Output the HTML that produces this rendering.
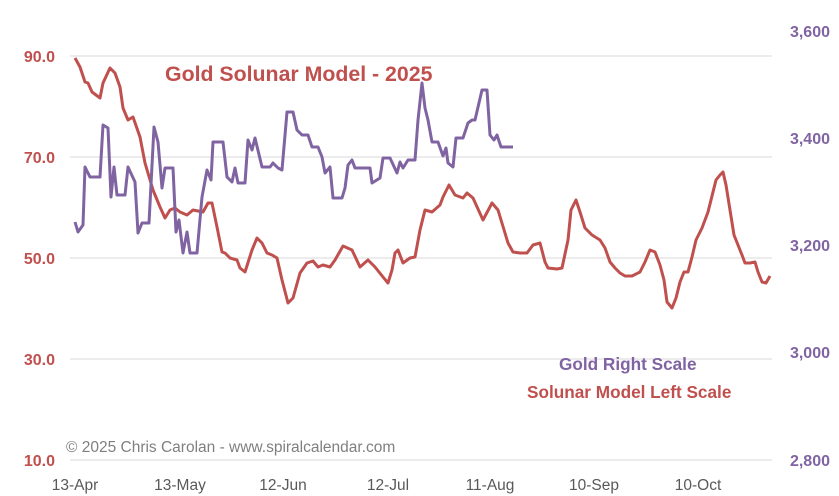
<!DOCTYPE html>
<html><head><style>
body{margin:0;background:#fff}
svg{display:block;font-family:"Liberation Sans",Arial,sans-serif}
</style></head><body>
<svg width="839" height="496" viewBox="0 0 839 496">
<g stroke="#d9d9d9" stroke-width="1">
<line x1="70" y1="56" x2="772" y2="56"/><line x1="70" y1="157" x2="772" y2="157"/>
<line x1="70" y1="258" x2="772" y2="258"/><line x1="70" y1="359" x2="772" y2="359"/>
<line x1="70" y1="460" x2="772" y2="460"/>
</g>
<g fill="#c0504d" font-weight="bold" font-size="16" text-anchor="end">
<text x="55" y="62">90.0</text><text x="55" y="163">70.0</text><text x="55" y="264">50.0</text><text x="55" y="365">30.0</text><text x="55" y="466">10.0</text>
</g>
<g fill="#8064a2" font-weight="bold" font-size="16" text-anchor="end">
<text x="830" y="37">3,600</text><text x="830" y="144">3,400</text><text x="830" y="251">3,200</text><text x="830" y="358">3,000</text><text x="830" y="466">2,800</text>
</g>
<g fill="#595959" font-size="15.5" text-anchor="middle">
<text x="75" y="490">13-Apr</text><text x="180" y="490">13-May</text><text x="283" y="490">12-Jun</text><text x="388" y="490">12-Jul</text><text x="490" y="490">11-Aug</text><text x="594" y="490">10-Sep</text><text x="698" y="490">10-Oct</text>
</g>
<polyline fill="none" stroke="#c0504d" stroke-width="3" stroke-linejoin="round" points="75,58 80,67 85,82 88,83 92,92 100,98 103,83 110,68 115,73 120,87 123,108 128,120 133,117 140,137 145,163 153,190 160,207 165,218 170,210 175,208 180,212 187,215 193,210 203,212 208,203 212,203 217,227 222,252 225,253 230,258 237,260 240,268 245,272 252,250 257,238 262,243 267,253 272,255 277,258 282,280 288,303 293,298 300,273 307,263 313,261 318,267 323,265 330,267 335,260 343,246 352,250 360,267 368,260 375,267 383,277 388,283 392,270 395,253 398,250 403,263 410,258 415,257 420,230 425,210 432,212 440,205 443,197 449,185 455,195 463,198 467,193 473,198 483,220 492,203 498,210 508,243 513,252 520,253 527,253 533,245 540,243 545,262 548,268 557,269 562,268 568,240 571,210 576,200 580,212 585,228 592,235 600,240 605,248 610,262 615,268 620,273 625,276 632,276 640,272 645,262 650,250 655,252 660,265 664,280 667,302 672,308 676,298 680,282 684,272 688,272 692,257 696,240 702,228 708,212 712,196 716,180 720,175 723,172 726,185 730,210 734,235 738,245 742,255 745,263 750,263 755,262 758,272 762,282 766,283 770,276"/>
<polyline fill="none" stroke="#8064a2" stroke-width="3" stroke-linejoin="round" points="75,222 78,232 83,225 85,167 90,177 100,177 103,125 108,128 111,197 114,167 117,195 125,195 128,167 135,182 138,233 142,223 149,223 154,127 158,142 162,188 165,168 173,168 176,232 179,220 183,253 187,232 190,253 197,253 202,197 207,170 211,180 213,142 223,142 227,177 232,182 235,168 238,183 245,183 248,140 252,150 255,138 262,167 270,167 273,163 278,168 282,170 287,112 293,112 297,130 302,135 308,135 312,147 318,147 322,157 325,173 330,167 333,198 342,198 345,188 348,165 352,160 355,168 370,168 372,183 380,178 383,158 390,158 397,173 400,162 403,168 408,160 415,160 418,120 422,83 425,108 428,120 432,142 438,142 443,156 446,148 448,163 453,167 456,138 463,138 468,123 472,120 475,120 482,90 487,90 490,135 494,140 497,135 501,147 513,147"/>
<text x="165" y="81" fill="#c0504d" font-weight="bold" font-size="21.3">Gold Solunar Model - 2025</text>
<text x="559" y="370" fill="#8064a2" font-weight="bold" font-size="17.2">Gold Right Scale</text>
<text x="527" y="398" fill="#c0504d" font-weight="bold" font-size="17.2">Solunar Model Left Scale</text>
<text x="66" y="452" fill="#7f7f7f" font-size="15.5">© 2025 Chris Carolan - www.spiralcalendar.com</text>
</svg>
</body></html>
